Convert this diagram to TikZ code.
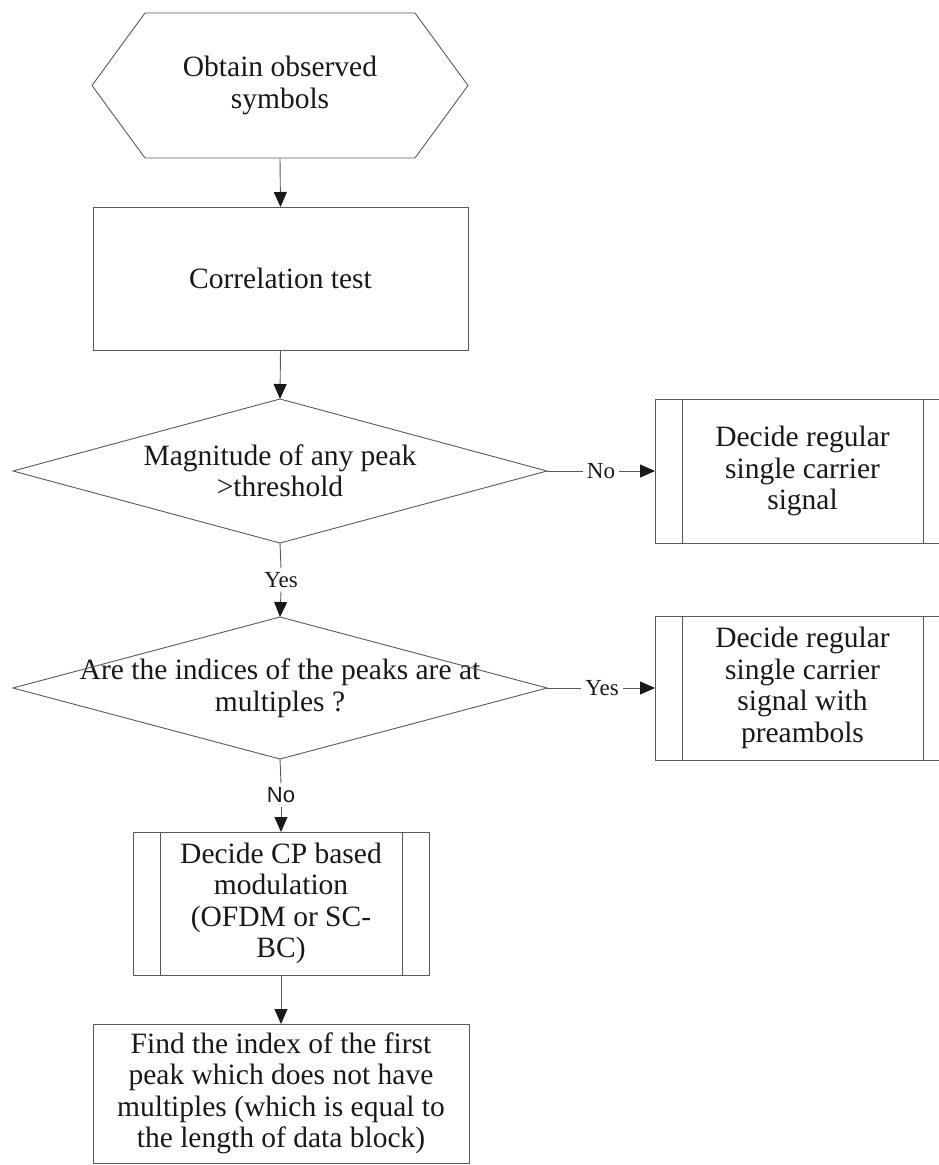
\documentclass[tikz,border=0pt]{standalone}
\usepackage{fontspec}
\setmainfont{Liberation Serif}
\setsansfont{Liberation Sans}
\usetikzlibrary{arrows.meta,calc}
\begin{document}
\begin{tikzpicture}[x=1pt,y=-1pt,
  every node/.style={inner sep=0pt, outer sep=0pt},
  main/.style={font=\fontsize{29.5}{31.5}\selectfont, align=center, text=black!90},
  lbl/.style={font=\fontsize{23}{26}\selectfont, inner sep=4pt, text=black!90},
  ln/.style={draw=black!65, line width=0.9pt},
  boxed/.style={main, draw=black!65, line width=0.9pt},
  arr/.style={ln, -{Triangle[length=15pt,width=13pt,color=black!90]}}
]
\useasboundingbox (0,0) rectangle (939,1165);
\clip (0,0) rectangle (939,1165);

% hexagon start
\node[main, minimum width=376pt, minimum height=145pt] (obtain) at (280,85.5) {Obtain observed\\symbols};
\draw[ln] (obtain.west) -- ([xshift=53pt]obtain.north west) -- ([xshift=-53pt]obtain.north east)
  -- (obtain.east) -- ([xshift=-53pt]obtain.south east) -- ([xshift=53pt]obtain.south west) -- cycle;

% correlation box
\node[boxed, minimum width=375pt, minimum height=143pt] (corr) at (280.5,278.5) {Correlation test};

% diamond 1
\node[main, minimum width=534pt, minimum height=144pt] (mag) at (280,471) {Magnitude of any peak\\>threshold};
\draw[ln] (mag.north) -- (mag.east) -- (mag.south) -- (mag.west) -- cycle;

% diamond 2
\node[main, minimum width=534pt, minimum height=142pt] (idx) at (280,688) {Are the indices of the peaks are at\\multiples ?};
\draw[ln] (idx.north) -- (idx.east) -- (idx.south) -- (idx.west) -- cycle;

% right boxes
\node[boxed, minimum width=295pt, minimum height=144pt] (reg) at (802.5,471) {Decide regular\\single carrier\\signal};
\draw[ln] ([xshift=27pt]reg.north west) -- ([xshift=27pt]reg.south west);
\draw[ln] ([xshift=-27pt]reg.north east) -- ([xshift=-27pt]reg.south east);

\node[boxed, minimum width=295pt, minimum height=144pt] (pre) at (802.5,688) {Decide regular\\single carrier\\signal with\\preambols};
\draw[ln] ([xshift=27pt]pre.north west) -- ([xshift=27pt]pre.south west);
\draw[ln] ([xshift=-27pt]pre.north east) -- ([xshift=-27pt]pre.south east);

% CP box
\node[boxed, minimum width=296pt, minimum height=143pt] (cp) at (281,903.5) {Decide CP based\\modulation\\(OFDM or SC-\\BC)};
\draw[ln] ([xshift=27pt]cp.north west) -- ([xshift=27pt]cp.south west);
\draw[ln] ([xshift=-27pt]cp.north east) -- ([xshift=-27pt]cp.south east);

% final box
\node[boxed, minimum width=376pt, minimum height=139pt] (find) at (281,1093.5) {Find the index of the first\\peak which does not have\\multiples (which is equal to\\the length of data block)};

% labels
\node[lbl] (no1) at (601,471) {No};
\node[lbl] (yes1) at (281,580) {Yes};
\node[lbl] (yes2) at (602,688) {Yes};
\node[lbl, font=\sffamily\fontsize{22}{26}\selectfont] (no2) at (281,795) {No};

% connectors
\draw[arr] (obtain.south) -- (corr.north);
\draw[arr] (corr.south) -- (mag.north);
\draw[ln] (mag.east) -- (no1.west);
\draw[arr] (no1.east) -- (reg.west);
\draw[ln] (mag.south) -- (yes1.north);
\draw[arr] (yes1.south) -- (idx.north);
\draw[ln] (idx.east) -- (yes2.west);
\draw[arr] (yes2.east) -- (pre.west);
\draw[ln] (idx.south) -- (no2.north);
\draw[arr] (no2.south) -- (cp.north);
\draw[arr] (cp.south) -- (find.north);
\end{tikzpicture}
\end{document}
